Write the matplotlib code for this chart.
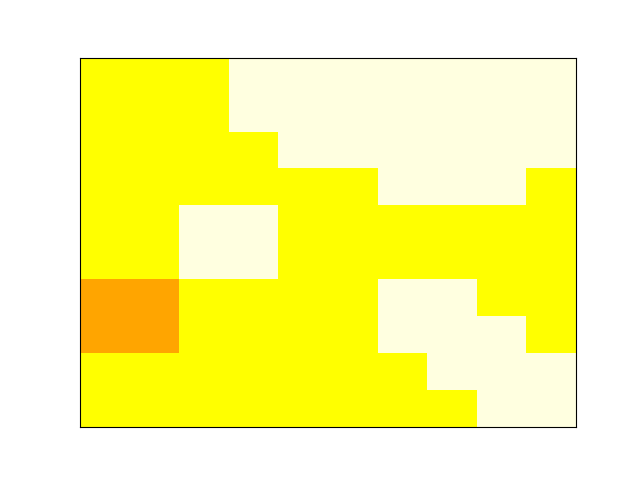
import numpy as np
import matplotlib
matplotlib.use('Agg')
import matplotlib.pyplot as plt
from matplotlib.colors import ListedColormap

# cell classes, top row first: 0 = light, 1 = yellow, 2 = orange
row_0 = [1, 1, 1, 0, 0, 0, 0, 0, 0, 0]
row_1 = [1, 1, 1, 0, 0, 0, 0, 0, 0, 0]
row_2 = [1, 1, 1, 1, 0, 0, 0, 0, 0, 0]
row_3 = [1, 1, 1, 1, 1, 1, 0, 0, 0, 1]
row_4 = [1, 1, 0, 0, 1, 1, 1, 1, 1, 1]
row_5 = [1, 1, 0, 0, 1, 1, 1, 1, 1, 1]
row_6 = [2, 2, 1, 1, 1, 1, 0, 0, 1, 1]
row_7 = [2, 2, 1, 1, 1, 1, 0, 0, 0, 1]
row_8 = [1, 1, 1, 1, 1, 1, 1, 0, 0, 0]
row_9 = [1, 1, 1, 1, 1, 1, 1, 1, 0, 0]
colors = ['lightyellow', 'yellow', 'orange']

grid = np.array([row_0, row_1, row_2, row_3, row_4,
                 row_5, row_6, row_7, row_8, row_9])

fig, ax = plt.subplots(figsize=(6.4, 4.8), dpi=100)
ax.pcolormesh(grid, cmap=ListedColormap(colors), vmin=-0.5, vmax=2.5)
ax.invert_yaxis()
ax.set_xticks([])
ax.set_yticks([])
fig.savefig('out.png')
